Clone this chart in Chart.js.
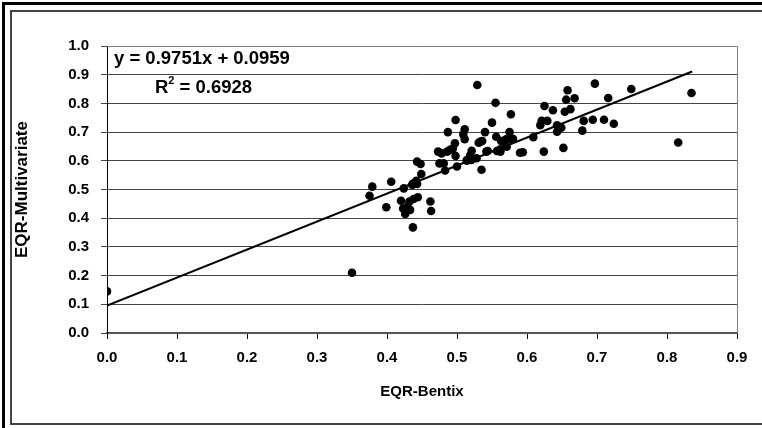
<!DOCTYPE html>
<html><head><meta charset="utf-8">
<script src="https://cdn.jsdelivr.net/npm/chart.js@4/dist/chart.umd.min.js"></script>
<style>html,body{margin:0;padding:0;background:#fff;}canvas{display:block;}</style>
</head><body>
<canvas id="c" width="762" height="428"></canvas>
<script>
// ---- data ----
const bentixX = [
 0.000,0.350,0.816,0.835,0.749,0.697,0.716,0.658,0.656,0.668,
 0.625,0.637,0.654,0.662,0.681,0.694,0.710,0.724,0.679,0.621,
 0.629,0.619,0.643,0.649,0.643,0.609,0.624,0.652,0.555,0.577,
 0.498,0.550,0.487,0.511,0.509,0.540,0.575,0.511,0.556,0.497,
 0.533,0.566,0.578,0.494,0.486,0.478,0.521,0.544,0.562,0.571,
 0.590,0.594,0.520,0.514,0.500,0.481,0.483,0.535,0.443,0.448,
 0.449,0.442,0.437,0.406,0.379,0.375,0.424,0.399,0.420,0.432,
 0.438,0.444,0.423,0.429,0.433,0.426,0.462,0.463,0.437,0.498,
 0.519,0.475,0.528,0.529,0.531,0.536,0.563,0.570,0.580,0.473,
 0.490,0.542,0.557,0.562,0.514,0.521,0.443,0.436
];
const multivariateY = [
 0.145,0.210,0.664,0.836,0.850,0.869,0.819,0.846,0.813,0.818,
 0.791,0.776,0.771,0.780,0.739,0.743,0.743,0.729,0.705,0.739,
 0.739,0.724,0.724,0.715,0.701,0.682,0.632,0.645,0.802,0.762,
 0.742,0.733,0.700,0.710,0.692,0.700,0.700,0.675,0.684,0.661,
 0.666,0.667,0.675,0.643,0.632,0.626,0.635,0.634,0.640,0.649,
 0.628,0.630,0.603,0.603,0.580,0.591,0.566,0.569,0.597,0.589,
 0.554,0.530,0.521,0.527,0.510,0.478,0.504,0.438,0.461,0.458,
 0.467,0.473,0.434,0.440,0.429,0.415,0.458,0.425,0.368,0.617,
 0.620,0.591,0.609,0.864,0.663,0.669,0.669,0.675,0.677,0.632,
 0.638,0.632,0.634,0.632,0.600,0.604,0.519,0.516
];
const trendSlope = 0.9751;
const trendIntercept = 0.0959;
const trendX = [0, 0.836];
const xTickLabels = ['0.0','0.1','0.2','0.3','0.4','0.5','0.6','0.7','0.8','0.9'];
const yTickLabels = ['0.0','0.1','0.2','0.3','0.4','0.5','0.6','0.7','0.8','0.9','1.0'];
const xTitle = 'EQR-Bentix';
const yTitle = 'EQR-Multivariate';
const eqText = 'y = 0.9751x + 0.0959';
const r2Value = '0.6928';

const FONT = "'Liberation Sans', Arial, sans-serif";
const points = bentixX.map((x, i) => ({x, y: multivariateY[i]}));
const trend = trendX.map(x => ({x, y: trendSlope * x + trendIntercept}));

const framePlugin = {
  id: 'frame',
  beforeDraw(chart) {
    const ctx = chart.ctx;
    ctx.save();
    ctx.fillStyle = '#fff';
    ctx.fillRect(0, 0, chart.width, chart.height);
    ctx.strokeStyle = '#000';
    ctx.lineWidth = 3;
    ctx.strokeRect(3.5, 3.5, 790, 440);
    ctx.strokeStyle = '#444';
    ctx.lineWidth = 2;
    ctx.strokeRect(11, 11, 780, 413);
    ctx.restore();
  },
  afterDraw(chart) {
    const ctx = chart.ctx;
    const a = chart.chartArea;
    ctx.save();
    ctx.strokeStyle = '#808080';
    ctx.lineWidth = 1;
    ctx.beginPath();
    ctx.moveTo(a.left, a.top + 0.5);
    ctx.lineTo(a.right + 0.5, a.top + 0.5);
    ctx.lineTo(a.right + 0.5, a.bottom);
    ctx.stroke();
    ctx.fillStyle = '#000';
    ctx.textBaseline = 'middle';
    ctx.font = "bold 18.5px " + FONT;
    ctx.fillText(eqText, 114, 59);
    let x = 155;
    ctx.fillText('R', x, 88);
    x += ctx.measureText('R').width;
    ctx.font = "bold 11px " + FONT;
    ctx.fillText('2', x, 81);
    x += ctx.measureText('2').width;
    ctx.font = "bold 18.5px " + FONT;
    ctx.fillText(' = ' + r2Value, x, 88);
    ctx.restore();
  }
};

new Chart(document.getElementById('c'), {
  type: 'scatter',
  data: {
    datasets: [
      { data: points, backgroundColor: '#000', borderColor: '#000', pointRadius: 4.3, pointBorderWidth: 0, showLine: false },
      { data: trend, type: 'line', borderColor: '#000', borderWidth: 2, pointRadius: 0, fill: false }
    ]
  },
  options: {
    responsive: false, animation: false, devicePixelRatio: 1,
    layout: { padding: { top: 46, right: 25, left: 0, bottom: 0 } },
    plugins: { legend: { display: false }, tooltip: { enabled: false } },
    scales: {
      x: {
        type: 'linear', min: 0, max: 0.9,
        ticks: { stepSize: 0.1, color: '#000', padding: 10, font: { family: FONT, size: 15, weight: 'bold' },
                 callback: (v, i) => xTickLabels[i] },
        grid: { drawOnChartArea: false, drawTicks: true, tickLength: 6, color: '#000' },
        border: { color: '#555', width: 2 },
        title: { display: true, text: xTitle, color: '#000', font: { family: FONT, size: 15, weight: 'bold' }, padding: { top: 0, bottom: 27 } },
        afterFit: s => { s.height = 95; }
      },
      y: {
        type: 'linear', min: 0, max: 1,
        ticks: { stepSize: 0.1, color: '#000', padding: 12, font: { family: FONT, size: 15, weight: 'bold' },
                 callback: (v, i) => yTickLabels[i] },
        grid: { color: '#444', lineWidth: 1, tickLength: 6 },
        border: { color: '#000', width: 1 },
        title: { display: true, text: yTitle, color: '#000', font: { family: FONT, size: 17, weight: 'bold' }, padding: { top: 12, bottom: 0 } },
        afterFit: s => { s.width = 107; }
      }
    }
  },
  plugins: [framePlugin]
});
</script>
</body></html>
